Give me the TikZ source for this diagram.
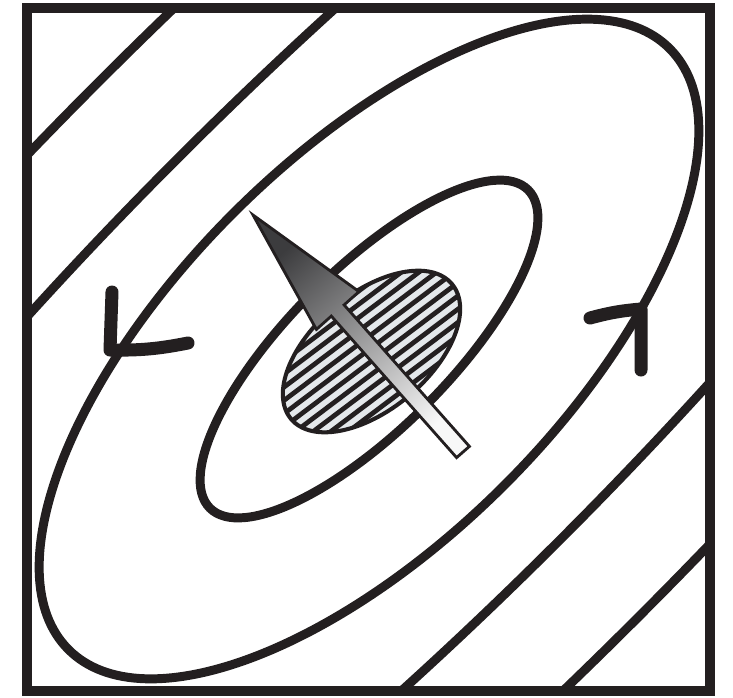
\documentclass[tikz,border=0pt]{standalone}
\usepackage{xcolor}
\usepackage{tikz}
\definecolor{ink}{HTML}{231F20}
\definecolor{hatchbg}{HTML}{E4E8EB}
\definecolor{arrowdark}{HTML}{3C3C3E}
\definecolor{arrowlight}{HTML}{F8F8F8}
\tikzset{
  frame/.style={draw=ink, line width=5.7pt},
  contour/.style={draw=ink, line width=5.1pt},
  flowmark/.style={draw=ink, line width=7.4pt, line cap=round, line join=round},
  hatchline/.style={draw=ink, line width=2.7pt},
  outline/.style={draw=ink, line width=1.6pt}
}
\begin{document}
\begin{tikzpicture}[x=0.02cm, y=0.02cm]
  \useasboundingbox (0,0) rectangle (733,-697);
  \coordinate (c) at (369,-349);
  \coordinate (h) at (371.5,-351.5);

  % level curves
  \begin{scope}
    \clip (27,-8) rectangle (710,-691);
    \foreach \a/\b in {225/80, 425/192, 1100/270, 1400/380}
      \draw[contour, rotate around={45:(c)}] (c) ellipse [x radius=\a, y radius=\b];
  \end{scope}

  % hatched region
  \begin{scope}
    \clip[rotate around={40:(h)}] (h) ellipse [x radius=105, y radius=58];
    \fill[hatchbg] (h) circle [radius=130];
    \begin{scope}[shift={(h)}, rotate=37]
      \foreach \k in {-12,...,12}
        \draw[hatchline] (-140,\k*10.6+3) -- (140,\k*10.6+3);
    \end{scope}
  \end{scope}
  \draw[outline, line width=2.3pt, rotate around={40:(h)}] (h) ellipse [x radius=105, y radius=58];

  % gradient arrow
  \coordinate (s1) at (469.4,-446.4);
  \coordinate (s2) at (456.6,-457.6);
  \coordinate (b1) at (344.1,-304.9);
  \coordinate (b2) at (331.3,-316.1);
  \coordinate (h1) at (359.0,-291.6);
  \coordinate (h2) at (316.4,-329.4);
  \coordinate (tip) at (253,-215);
  \shadedraw[outline, top color=arrowdark, bottom color=arrowlight, shading angle=41.5]
    (s1) -- (b1) -- (h1) -- (tip) -- (h2) -- (b2) -- (s2) -- cycle;

  % direction marks
  \coordinate (lm) at (110,-350);
  \coordinate (rm) at (641,-309);
  \draw[flowmark] (112,-292) -- (lm) to[bend right=6] (188,-343);
  \draw[flowmark] (590,-318) to[bend left=5] (rm) -- (641,-370);

  \draw[frame] (27,-8) rectangle (710,-691);
\end{tikzpicture}
\end{document}
